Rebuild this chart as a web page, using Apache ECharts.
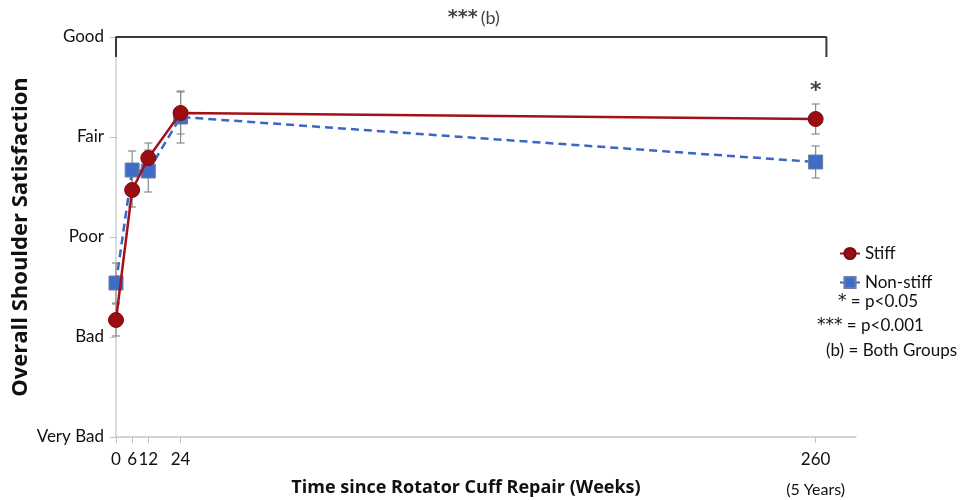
<!DOCTYPE html>
<html><head><meta charset="utf-8">
<script src="https://cdn.jsdelivr.net/npm/echarts@6/dist/echarts.min.js"></script>
<style>html,body{margin:0;padding:0;background:#fff}#c{width:965px;height:500px}</style>
</head><body><div id="c"></div>
<script>
const yCategories = ["Very Bad", "Bad", "Poor", "Fair", "Good"];
const weeks = [0, 6, 12, 24, 260];
const xTickValues = [0, 6, 12, 24, 260];
const stiffValues = [1.17, 2.47, 2.79, 3.24, 3.18];
const stiffErrors = [0.16, 0.17, 0.15, 0.21, 0.15];
const nonStiffValues = [1.54, 2.67, 2.66, 3.20, 2.75];
const nonStiffErrors = [0.20, 0.19, 0.21, 0.26, 0.16];
const bracketPoints = [[0, 3.8], [0, 4], [264, 4], [264, 3.8]];
const starAt260 = [260, 3.46];
const notes = ["* = p<0.05", "*** = p<0.001", "(b) = Both Groups"];

const font = 'Lato, "Open Sans", sans-serif';
const titleFont = '"Open Sans", Lato, sans-serif';
const starFont = '"DejaVu Sans", sans-serif';
const chart = echarts.init(document.getElementById('c'));

function errSeries(vals, errs, name) {
  return {
    type: 'custom', name: name + '_err', silent: true, z: 1,
    data: weeks.map((w, i) => [w, vals[i] - errs[i], vals[i] + errs[i]]),
    renderItem: function (params, api) {
      const lo = api.coord([api.value(0), api.value(1)]);
      const hi = api.coord([api.value(0), api.value(2)]);
      const cw = 4;
      const st = { stroke: '#8a8a8a', lineWidth: 1.2 };
      return { type: 'group', children: [
        { type: 'line', shape: { x1: lo[0], y1: lo[1], x2: hi[0], y2: hi[1] }, style: st },
        { type: 'line', shape: { x1: lo[0] - cw, y1: lo[1], x2: lo[0] + cw, y2: lo[1] }, style: st },
        { type: 'line', shape: { x1: hi[0] - cw, y1: hi[1], x2: hi[0] + cw, y2: hi[1] }, style: st }
      ]};
    }
  };
}

chart.setOption({
  animation: false,
  textStyle: { fontFamily: font },
  grid: { left: 116, right: 109, top: 37, bottom: 63, containLabel: false, outerBoundsMode: 'none' },
  xAxis: {
    type: 'value', min: 0, max: 275,
    name: 'Time since Rotator Cuff Repair (Weeks)',
    nameLocation: 'middle', nameGap: 42, nameMoveOverlap: false,
    nameTextStyle: { fontFamily: titleFont, fontSize: 18, fontWeight: 'bold', color: '#111', padding: [0, 40, 0, 0] },
    axisLine: { show: true, lineStyle: { color: '#c8c8c8', width: 1.5 } },
    axisTick: { show: true, length: 6, lineStyle: { color: '#c0c0c0' }, customValues: xTickValues },
    axisLabel: {
      customValues: xTickValues, color: '#111', fontSize: 17, margin: 12,
      formatter: v => v === 260 ? '{a|260}\n{b|(5 Years)}' : '{a|' + v + '}',
      rich: { a: { fontSize: 17, lineHeight: 22, color: '#111', fontFamily: font },
              b: { fontSize: 16, lineHeight: 38, color: '#111', fontFamily: font } }
    },
    splitLine: { show: false }
  },
  yAxis: {
    type: 'value', min: 0, max: 4, interval: 1,
    name: 'Overall Shoulder Satisfaction',
    nameLocation: 'middle', nameGap: 84, nameRotate: 90, nameMoveOverlap: false,
    nameTextStyle: { fontFamily: titleFont, fontSize: 22, fontWeight: 'bold', color: '#111' },
    axisLine: { show: true, lineStyle: { color: '#d0d0d0', width: 1.5 } },
    axisTick: { show: true, length: 6, lineStyle: { color: '#c0c0c0' } },
    axisLabel: { color: '#111', fontSize: 17, margin: 12, formatter: v => yCategories[v] },
    splitLine: { show: false }
  },
  legend: {
    orient: 'vertical', left: 834, top: 240, itemGap: 12,
    itemWidth: 20, itemHeight: 14,
    textStyle: { fontSize: 17, color: '#111', fontFamily: font },
    data: ['Stiff', 'Non-stiff']
  },
  graphic: notes.map((t, i) => ({
    type: 'text', left: [838, 817, 826][i], top: [293, 317, 342][i],
    style: {
      text: t.replace(/(\*+)/, '{s|$1}'), font: '17px ' + font, fill: '#111',
      rich: { s: { fontFamily: starFont, fontSize: 17, fill: '#111' } }
    }
  })),
  series: [
    errSeries(stiffValues, stiffErrors, 'Stiff'),
    errSeries(nonStiffValues, nonStiffErrors, 'Non-stiff'),
    {
      name: 'Non-stiff', type: 'line', z: 3,
      data: weeks.map((w, i) => [w, nonStiffValues[i]]),
      symbol: 'rect', symbolSize: 14,
      lineStyle: { color: '#3a66c4', width: 2.5, type: [8, 5] },
      itemStyle: { color: '#3f6cc6', borderColor: '#6d7f9c', borderWidth: 1 }
    },
    {
      name: 'Stiff', type: 'line', z: 4,
      data: weeks.map((w, i) => [w, stiffValues[i]]),
      symbol: 'circle', symbolSize: 15,
      lineStyle: { color: '#a3111a', width: 2.5 },
      itemStyle: { color: '#9c0d12', borderColor: '#7a0a0e', borderWidth: 1 }
    },
    {
      name: 'bracket', type: 'line', silent: true, z: 2,
      data: bracketPoints, symbol: 'none', clip: false,
      lineStyle: { color: '#3a3a3a', width: 2 }
    },
    {
      name: 'annotations', type: 'scatter', silent: true, clip: false, symbolSize: 0,
      data: [
        { value: [133, 4.19], label: { show: true, formatter: '{s|***} {t|(b)}',
          rich: { s: { fontFamily: starFont, fontSize: 19, fontWeight: 'bold', color: '#111' },
                  t: { fontFamily: font, fontSize: 18, color: '#111' } } } },
        { value: starAt260, label: { show: true, formatter: '*', fontFamily: starFont, fontSize: 22, fontWeight: 'bold', color: '#111' } }
      ],
      label: { position: 'inside' }
    }
  ]
});
</script></body></html>
